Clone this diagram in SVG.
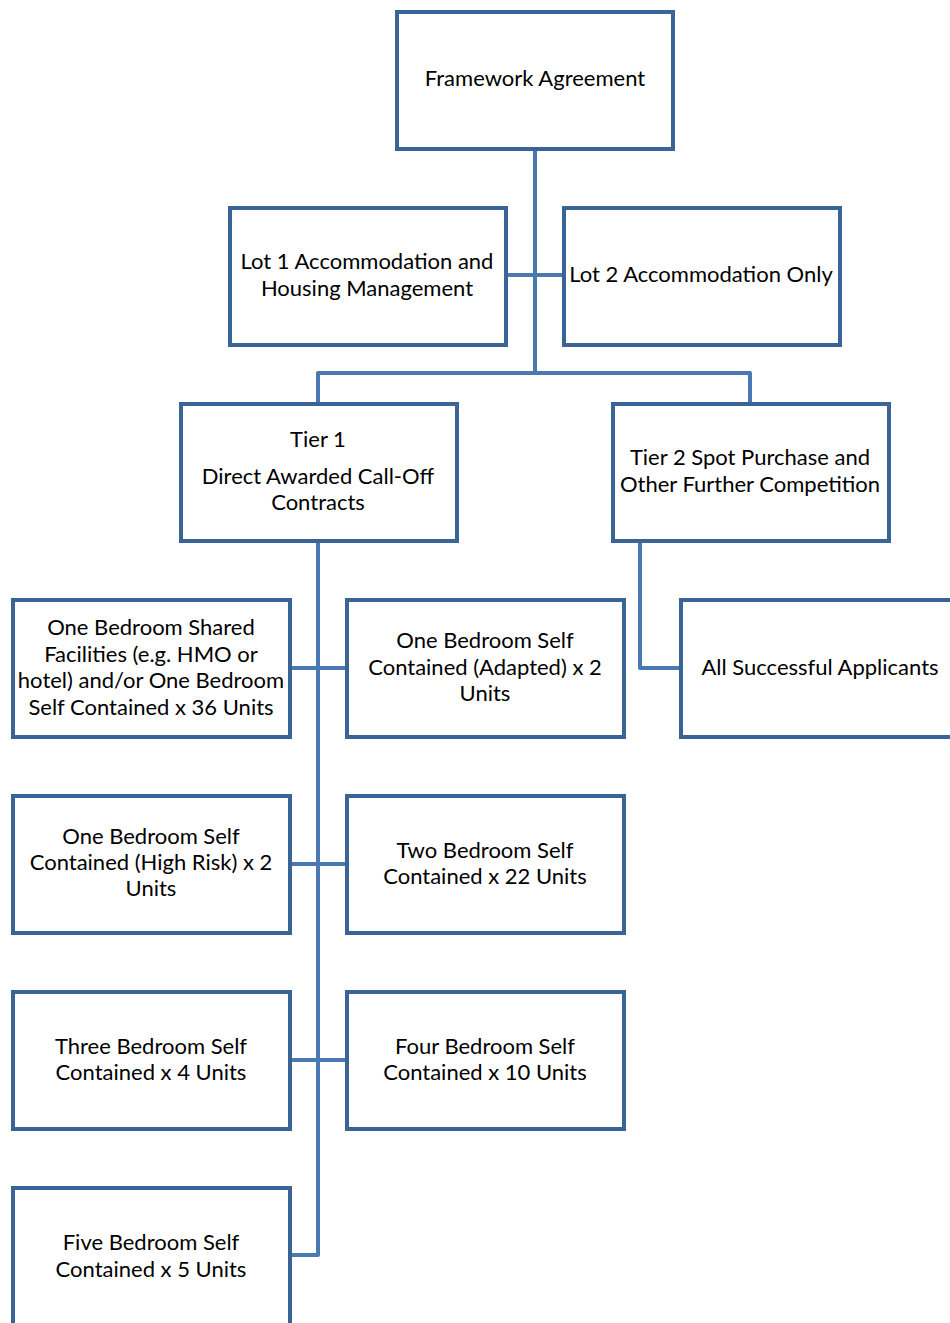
<svg xmlns="http://www.w3.org/2000/svg" width="950" height="1323" viewBox="0 0 950 1323">
<style>
.box{fill:#fff;stroke:#3b6496;stroke-width:4}
.con{fill:none;stroke:#4a78b0;stroke-width:4;stroke-linejoin:round}
text{font-family:Lato,"Open Sans","Liberation Sans",sans-serif;font-size:22px;fill:#000;text-anchor:middle}
</style>
<rect width="950" height="1323" fill="#fff"/>
<g id="connectors">
<path class="con" d="M535,149 V373"/>
<path class="con" d="M506,275 H563"/>
<path class="con" d="M318,403 V373 H750 V403"/>
<path class="con" d="M318,541 V1255 H290"/>
<path class="con" d="M290,668 H347"/>
<path class="con" d="M290,864 H347"/>
<path class="con" d="M290,1060 H347"/>
<path class="con" d="M640,541 V668 H681"/>
</g>
<g id="framework"><rect class="box" x="397" y="12" width="276" height="137"/><text x="535" y="86">Framework Agreement</text></g>
<g id="lot1"><rect class="box" x="230" y="208" width="276" height="137"/><text x="367" y="269">Lot 1 Accommodation and</text><text x="367" y="296">Housing Management</text></g>
<g id="lot2"><rect class="box" x="564" y="208" width="276" height="137"/><text x="701" y="282">Lot 2 Accommodation Only</text></g>
<g id="tier1"><rect class="box" x="181" y="404" width="276" height="137"/><text x="318" y="447">Tier 1</text><text x="318" y="484">Direct Awarded Call-Off</text><text x="318" y="510">Contracts</text></g>
<g id="tier2"><rect class="box" x="613" y="404" width="276" height="137"/><text x="750" y="465">Tier 2 Spot Purchase and</text><text x="750" y="492">Other Further Competition</text></g>
<g id="one-bed-shared"><rect class="box" x="13" y="600" width="277" height="137"/><text x="151" y="635">One Bedroom Shared</text><text x="151" y="662">Facilities (e.g. HMO or</text><text x="151" y="688">hotel) and/or One Bedroom</text><text x="151" y="715">Self Contained x 36 Units</text></g>
<g id="one-bed-adapted"><rect class="box" x="347" y="600" width="277" height="137"/><text x="485" y="648">One Bedroom Self</text><text x="485" y="675">Contained (Adapted) x 2</text><text x="485" y="701">Units</text></g>
<g id="all-successful"><rect class="box" x="681" y="600" width="280" height="137"/><text x="820" y="675">All Successful Applicants</text></g>
<g id="one-bed-high-risk"><rect class="box" x="13" y="796" width="277" height="137"/><text x="151" y="844">One Bedroom Self</text><text x="151" y="870">Contained (High Risk) x 2</text><text x="151" y="896">Units</text></g>
<g id="two-bed"><rect class="box" x="347" y="796" width="277" height="137"/><text x="485" y="858">Two Bedroom Self</text><text x="485" y="884">Contained x 22 Units</text></g>
<g id="three-bed"><rect class="box" x="13" y="992" width="277" height="137"/><text x="151" y="1054">Three Bedroom Self</text><text x="151" y="1080">Contained x 4 Units</text></g>
<g id="four-bed"><rect class="box" x="347" y="992" width="277" height="137"/><text x="485" y="1054">Four Bedroom Self</text><text x="485" y="1080">Contained x 10 Units</text></g>
<g id="five-bed"><rect class="box" x="13" y="1188" width="277" height="160"/><text x="151" y="1250">Five Bedroom Self</text><text x="151" y="1277">Contained x 5 Units</text></g>
</svg>
